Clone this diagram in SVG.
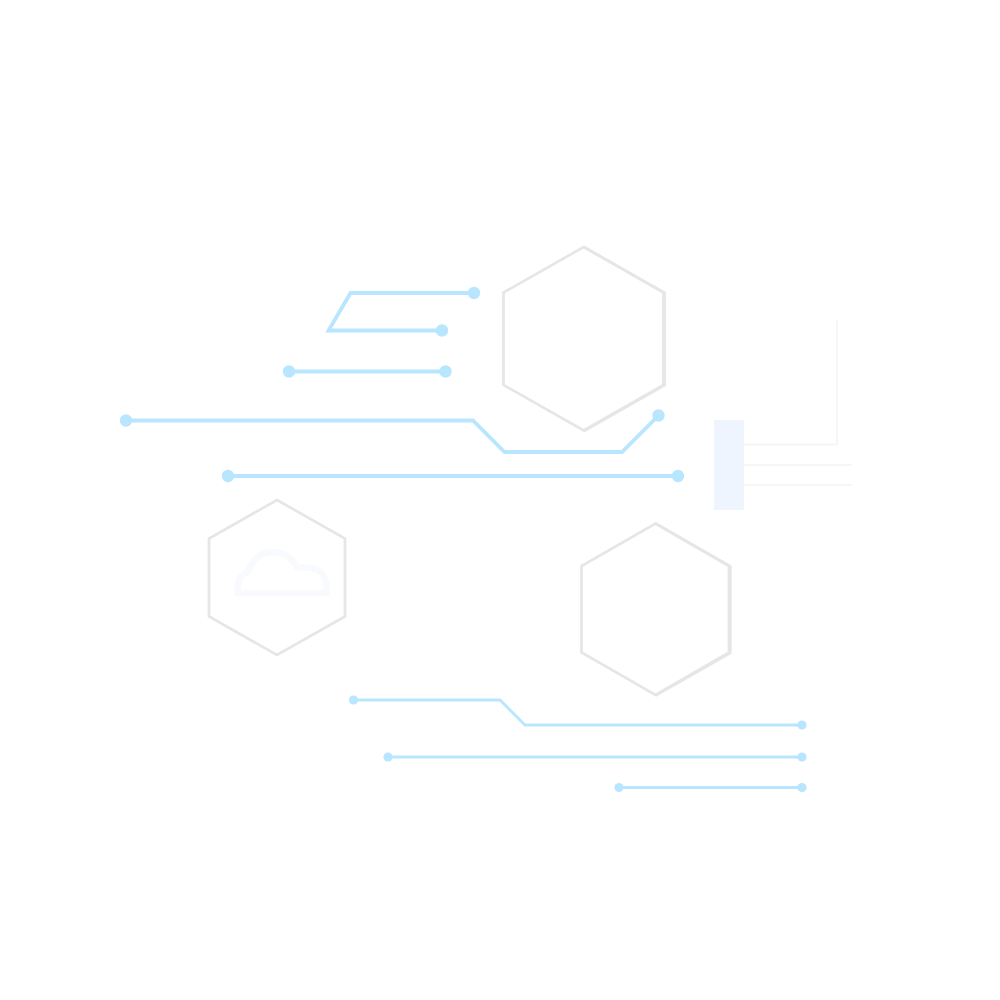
<svg xmlns="http://www.w3.org/2000/svg" width="1000" height="1000" viewBox="0 0 1000 1000">
<style>
.hex{fill:none;stroke:#e6e6e6;stroke-width:2.700;stroke-linejoin:miter}
.edge{fill:none;stroke:#e6e6e6;stroke-width:2.700;stroke-linejoin:miter}
.w{fill:none;stroke:#b9e6ff;stroke-width:3.800;stroke-linejoin:miter}
.t{fill:none;stroke:#b9e6ff;stroke-width:2.800;stroke-linejoin:miter}
.d{fill:#b9e6ff}
.f{fill:none;stroke:#f6f6f6;stroke-width:2}
</style>
<rect width="1000" height="1000" fill="#fff"/>
<g id="hex-top">
<polygon class="hex" points="583.700,247 663.500,292.500 663.500,385 583.700,430.500 503.500,385 503.500,292.500"/>
<path class="edge" d="M584,247 L664.500,292.800 V385.300 L584,431"/>
</g>
<g id="hex-left">
<polygon class="hex" points="277,500 345,538.500 345,616.500 277,655 209,616.500 209,538.500"/>
<path id="cloud" d="M238,593 V585 Q239,575 248,572 Q255,552 273,552 Q288,552 297,567 Q306,567 316,569 Q327,574 327,593 Z" fill="none" stroke="#f8fafd" stroke-width="6.500" stroke-linejoin="round"/>
</g>
<g id="hex-right">
<polygon class="hex" points="655.500,523.500 729,566 729,652.500 655.500,695 581.500,652.500 581.500,566"/>
<path class="edge" d="M655.500,523.500 L730.300,566.300 V653 L655.500,695.700"/>
</g>
<g id="chip">
<rect x="714" y="420" width="30" height="90" fill="#eef5fe"/>
<path class="f" d="M744,444.500 H837 V320"/>
<path class="f" d="M744,465 H852"/>
<path class="f" d="M744,485 H852"/>
</g>
<g id="connectors">
<path class="w" d="M474,293 H350.500 L328.500,330.500 H442"/>
<circle class="d" cx="474" cy="293" r="6.200"/><circle class="d" cx="442" cy="330.500" r="6.200"/>
<path class="w" d="M289,371.500 H445.500"/>
<circle class="d" cx="289" cy="371.500" r="6.200"/><circle class="d" cx="445.500" cy="371.500" r="6.200"/>
<path class="w" d="M126,420.500 H473 L504.500,452 H622 L658.500,415.500"/>
<circle class="d" cx="126" cy="420.500" r="6.200"/><circle class="d" cx="658.500" cy="415.500" r="6.200"/>
<path class="w" d="M228,476 H678"/>
<circle class="d" cx="228" cy="476" r="6.200"/><circle class="d" cx="678" cy="476" r="6.200"/>
<path class="t" d="M353.500,700 H500 L525,725 H802"/>
<circle class="d" cx="353.500" cy="700" r="4.600"/><circle class="d" cx="802" cy="725" r="4.600"/>
<path class="t" d="M388,757 H802"/>
<circle class="d" cx="388" cy="757" r="4.600"/><circle class="d" cx="802" cy="757" r="4.600"/>
<path class="t" d="M619,787.500 H802"/>
<circle class="d" cx="619" cy="787.500" r="4.600"/><circle class="d" cx="802" cy="787.500" r="4.600"/>
</g>
</svg>
